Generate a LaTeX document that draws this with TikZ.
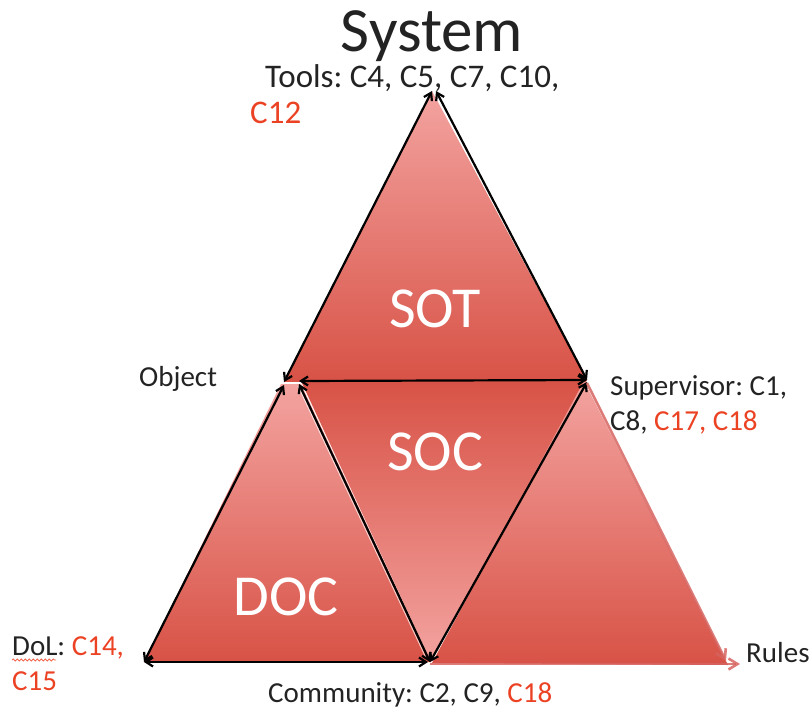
\documentclass[tikz,border=0pt]{standalone}
\usepackage{fontspec}
\setmainfont{Carlito}
\usepackage{tikz}
\usetikzlibrary{arrows.meta, positioning, decorations.pathmorphing}
\definecolor{trilight}{RGB}{243,163,160}
\definecolor{tridark}{RGB}{216,82,70}
\definecolor{labelgray}{RGB}{35,35,35}
\definecolor{labelred}{RGB}{236,66,36}
\definecolor{rulesred}{RGB}{214,100,96}
\frenchspacing

\begin{document}
\begin{tikzpicture}[x=1pt, y=-1pt,
    every node/.style={inner sep=0pt, text=labelgray},
    vertexlabel/.style={anchor=base west, font=\fontsize{29}{35}\selectfont},
    toolslabel/.style={anchor=base west, font=\fontsize{33}{37}\selectfont},
    tripart/.style={anchor=center, text=white, font=\fontsize{58}{60}\selectfont},
    edgearrow/.style={{Straight Barb[length=7pt, width=9pt]}-{Straight Barb[length=7pt, width=9pt]}, line width=2.2pt, black},
    rulesarrow/.style={-{Straight Barb[length=9pt, width=11pt]}, line width=2.6pt, rulesred, opacity=0.85}
]
\useasboundingbox (0,0) rectangle (812,710);

% vertices
\coordinate (toolsv) at (432,91);
\coordinate (objv) at (284,382);
\coordinate (objr) at (299,381);
\coordinate (supv) at (587,380);
\coordinate (dolv) at (144,662);
\coordinate (comv) at (430,662);
\coordinate (rulesv) at (740,664);
\coordinate (rulesr) at (726,661);

% triangles
\shade[top color=trilight, bottom color=tridark] (toolsv) -- (objv) -- (supv) -- cycle;
\shade[top color=trilight, bottom color=tridark] (281,384) -- (301,384) -- (431,662) -- (dolv) -- cycle;
\shade[top color=tridark, bottom color=trilight] (301,381) -- (supv) -- (431,662) -- cycle;
\shade[top color=trilight, bottom color=tridark] (584,381) -- (432,663) -- (728,665) -- cycle;
\draw[white, opacity=0.7, line width=1pt] (298,386) -- (427,660);

\node[tripart] (sot) at (435,309) {SOT};
\node[tripart] (soc) at (435,452) {SOC};
\node[tripart] (doc) at (286,597) {DOC};

% connectors
\draw[edgearrow] (toolsv) -- (objv);
\draw[edgearrow] ([xshift=4pt]toolsv) -- (supv);
\draw[edgearrow] (objr) -- (supv);
\draw[edgearrow] (dolv) -- ([yshift=-3pt]objv);
\draw[edgearrow] (dolv) -- ([xshift=-2pt]comv);
\draw[edgearrow] ([yshift=-3pt]objr) -- (comv);
\draw[edgearrow] ([yshift=-2pt]supv) -- (comv);
\draw[rulesarrow] ([yshift=-3pt]supv) -- (rulesr);
\draw[rulesarrow] ([yshift=-2pt]comv) -- (rulesv);

% labels
\node[font=\fontsize{63}{63}\selectfont, anchor=base] (system) at (432,51) {System};
\node[toolslabel] (tools) at (265,87) {Tools: C4, C5, C7, C10,};
\node[toolslabel, text=labelred] (toolsb) at (250,123) {C12};
\node[vertexlabel] (object) at (139,386) {Object};
\node[vertexlabel] (super) at (610,395) {Supervisor: C1,};
\node[vertexlabel] (superb) at (610,430) {C8, \textcolor{labelred}{C17, C18}};
\node[vertexlabel] (dol) at (12,655) {DoL: \textcolor{labelred}{C14,}};
\node[vertexlabel, text=labelred] (dolb) at (12,690) {C15};
\node[vertexlabel] (community) at (268,702) {Community: C2, C9, \textcolor{labelred}{C18}};
\node[vertexlabel] (rules) at (746,662) {Rules};
\draw[labelred!80, line width=0.8pt, decorate, decoration={snake, amplitude=1pt, segment length=4pt}] ([yshift=-5pt]dol.base west) -- ++(44,0);

\end{tikzpicture}
\end{document}
